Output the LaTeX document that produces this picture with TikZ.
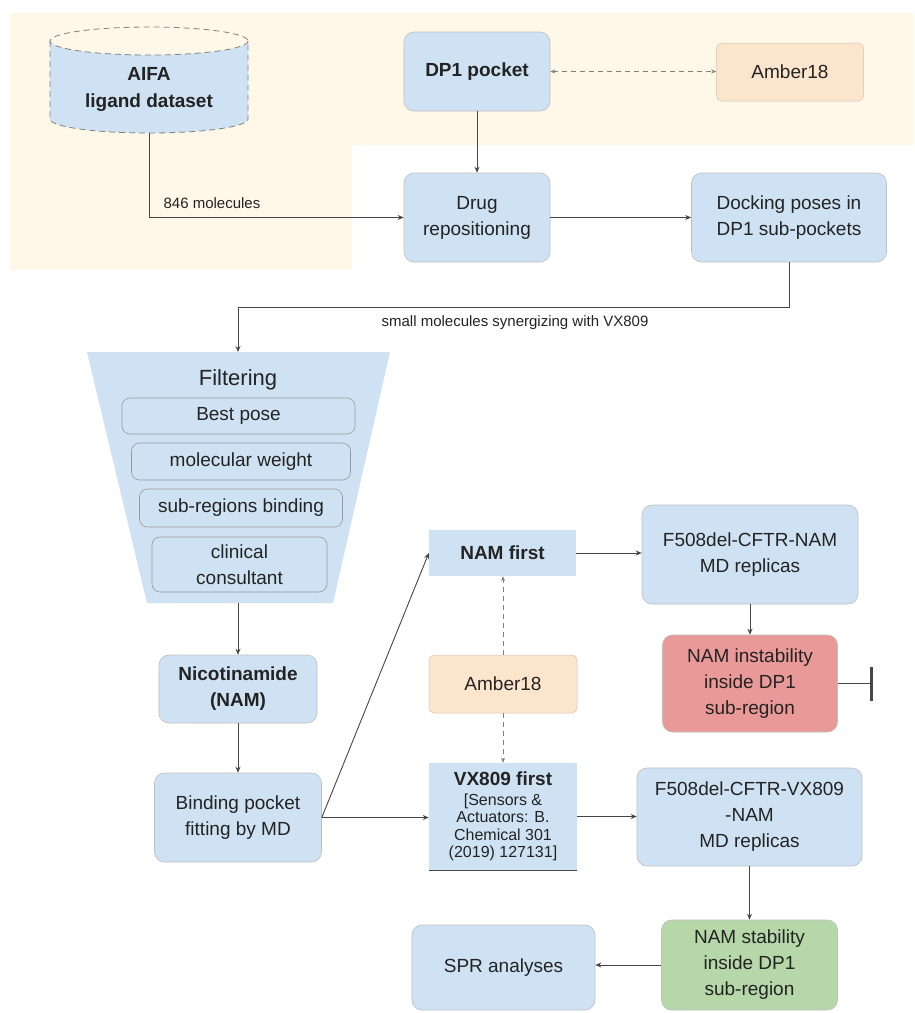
\documentclass[tikz,border=0pt]{standalone}
\usepackage{fontspec}
\setmainfont{Liberation Sans}
\usetikzlibrary{arrows.meta}
\definecolor{bgpeach}{RGB}{255,247,231}
\definecolor{boxblue}{RGB}{207,226,243}
\definecolor{boxpeach}{RGB}{252,229,205}
\definecolor{boxred}{RGB}{234,153,153}
\definecolor{boxgreen}{RGB}{182,215,168}
\definecolor{linegray}{RGB}{70,70,70}
\definecolor{txt}{RGB}{35,35,35}
\begin{document}
\begin{tikzpicture}[x=1pt,y=-1pt,
  base/.style={align=center, inner sep=0pt, font=\fontsize{19}{26}\selectfont, text=txt},
  bluebox/.style={base, fill=boxblue, draw=black!25, line width=0.6pt, rounded corners=10pt},
  flatbox/.style={base, fill=boxblue},
  peachbox/.style={base, fill=boxpeach, draw=boxpeach!85!black, line width=0.5pt, rounded corners=5pt},
  redbox/.style={bluebox, fill=boxred},
  greenbox/.style={bluebox, fill=boxgreen},
  filtbox/.style={base, fill=boxblue, draw=black!40, line width=0.6pt, rounded corners=8pt},
  conn/.style={draw=linegray, line width=0.9pt, -{Stealth[length=6pt,width=5pt]}},
  dconn/.style={draw=gray, line width=0.9pt, dash pattern=on 5pt off 4pt, -{Stealth[length=5pt,width=4pt]}},
  lbl/.style={inner sep=0pt, font=\fontsize{15}{18}\selectfont, text=txt},
]
\useasboundingbox (0,0) rectangle (914,1013);
\fill[white] (0,0) rectangle (914,1013);
% peach background region
\fill[bgpeach] (10,13) -- (914,13) -- (914,145) -- (352,145) -- (352,270) -- (10,270) -- cycle;

% AIFA cylinder
\fill[boxblue] (50,41) -- (50,119) arc[start angle=180, end angle=0, x radius=99, y radius=14]
  -- (248,41) arc[start angle=0, end angle=180, x radius=99, y radius=14] -- cycle;
\draw[gray, line width=0.8pt, dash pattern=on 6pt off 4pt] (149,41) ellipse[x radius=99, y radius=14];
\draw[gray, line width=0.8pt, dash pattern=on 6pt off 4pt] (50,41) -- (50,119) arc[start angle=180, end angle=0, x radius=99, y radius=14] -- (248,41);
\node[base, font=\fontsize{19}{27}\selectfont\bfseries, minimum width=198, minimum height=88] (aifa) at (149,89) {AIFA\\ligand dataset};

% top row
\node[bluebox, font=\fontsize{19}{26}\selectfont\bfseries, minimum width=146, minimum height=79] (dp1) at (477,71.5) {DP1 pocket};
\node[peachbox, minimum width=147, minimum height=58] (amberA) at (790,72) {Amber18};
\node[bluebox, minimum width=146, minimum height=89] (drug) at (477,217.5) {Drug\\repositioning};
\node[bluebox, minimum width=195, minimum height=89] (dock) at (789,217.5) {Docking poses in\\DP1 sub-pockets};

% filtering funnel
\fill[boxblue] (87,352) -- (390,352) -- (333,603) -- (147,603) -- cycle;
\coordinate (ftop) at (238,352);
\coordinate (fbot) at (238,603);
\node[base, font=\fontsize{22}{26}\selectfont] (filt) at (238,380) {Filtering};
\node[filtbox, minimum width=233, minimum height=36] (best) at (238.5,416) {Best pose};
\node[filtbox, minimum width=219, minimum height=37] (mw) at (241,461.5) {molecular weight};
\node[filtbox, minimum width=203, minimum height=38] (subr) at (241,508) {sub-regions binding};
\node[filtbox, minimum width=175, minimum height=55] (clin) at (239.5,564.5) {clinical\\consultant};

% left column
\node[bluebox, font=\fontsize{19}{26}\selectfont\bfseries, minimum width=158, minimum height=68] (nico) at (238,689) {Nicotinamide\\(NAM)};
\node[bluebox, minimum width=167, minimum height=89] (bind) at (238,817.5) {Binding pocket\\fitting by MD};

% middle column
\node[flatbox, font=\fontsize{19}{26}\selectfont\bfseries, minimum width=147, minimum height=46] (namf) at (502.5,553) {NAM first};
\node[peachbox, minimum width=148, minimum height=58] (amberB) at (503,684) {Amber18};
\node[flatbox, font=\fontsize{16}{17.5}\selectfont, minimum width=148, minimum height=107] (vx) at (503,816.5)
  {{\fontsize{19}{20}\selectfont\bfseries VX809 first}\\[2pt][Sensors \&\\Actuators: B.\\Chemical 301\\(2019) 127131]};
\draw[linegray, line width=1.2pt] (vx.south west) -- (vx.south east);
\node[bluebox, minimum width=183, minimum height=85] (spr) at (503.5,967.5) {SPR analyses};

% right column
\node[bluebox, minimum width=216, minimum height=99] (fnam) at (750,554.5) {F508del-CFTR-NAM\\MD replicas};
\node[redbox, minimum width=175, minimum height=97] (red) at (750,683.5) {NAM instability\\inside DP1\\sub-region};
\node[bluebox, minimum width=225, minimum height=98] (fvx) at (749.5,817) {F508del-CFTR-VX809\\-NAM\\MD replicas};
\node[greenbox, minimum width=176, minimum height=90] (green) at (749.5,965) {NAM stability\\inside DP1\\sub-region};
\coordinate (stop) at (873,683.5);

% connectors
\draw[conn] (aifa.south) |- (drug.west);
\node[lbl] (lab1) at (212,203) {846 molecules};
\draw[conn] (dp1.south) -- (drug.north);
\draw[dconn, {Stealth[length=5pt,width=4pt]}-{Stealth[length=5pt,width=4pt]}] (dp1.east) -- (amberA.west |- dp1.east);
\draw[conn] (drug.east) -- (dock.west);
\draw[conn] (dock.south) -- ++(0,45) -| (ftop);
\node[lbl] (lab2) at (515,323) {small molecules synergizing with VX809};
\draw[conn] (fbot) -- (nico.north);
\draw[conn] (nico.south) -- (bind.north);
\draw[conn] (bind.east) -- (namf.west);
\draw[conn] (bind.east) -- (bind.east -| vx.west);
\draw[dconn] (amberB.north) -- (namf.south -| amberB.north);
\draw[dconn] (amberB.south) -- (vx.north);
\draw[conn] (namf.east) -- (namf.east -| fnam.west);
\draw[conn] (fnam.south) -- (red.north);
\draw[draw=linegray, line width=0.9pt, -{Bar[width=34pt, line width=3.5pt]}] (red.east) -- (stop);
\draw[conn] (vx.east) -- (vx.east -| fvx.west);
\draw[conn] (fvx.south -| green.north) -- (green.north);
\draw[conn] (green.west) -- (green.west -| spr.east);
\end{tikzpicture}
\end{document}
